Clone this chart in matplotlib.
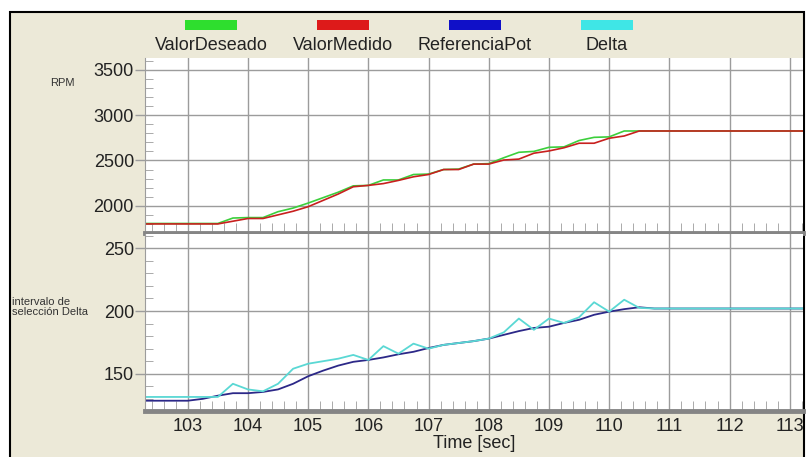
import matplotlib.pyplot as plt
from matplotlib.patches import Rectangle
from matplotlib.ticker import MultipleLocator

plt.rcParams['font.family'] = ['Liberation Sans', 'DejaVu Sans']

# samples every 0.25 s
t = [102.25 + 0.25 * i for i in range(45)]

valor_deseado = [1805, 1805, 1805, 1805, 1805, 1805, 1865, 1870, 1870, 1935,
                 1975, 2030, 2090, 2150, 2220, 2225, 2285, 2285, 2345, 2350,
                 2400, 2405, 2460, 2465, 2530, 2590, 2600, 2645, 2650, 2720,
                 2755, 2760, 2825, 2825, 2825, 2825, 2825, 2825, 2825, 2825,
                 2825, 2825, 2825, 2825, 2825]
valor_medido = [1800, 1800, 1800, 1800, 1800, 1800, 1830, 1860, 1860, 1900,
                1940, 1990, 2060, 2130, 2210, 2225, 2245, 2280, 2320, 2345,
                2400, 2400, 2460, 2460, 2505, 2515, 2580, 2605, 2640, 2690,
                2690, 2745, 2770, 2825, 2825, 2825, 2825, 2825, 2825, 2825,
                2825, 2825, 2825, 2825, 2825]
referencia_pot = [128.5, 128.5, 128.5, 128.5, 130, 132.5, 134.5, 134.5, 135.5, 137.5,
                  142, 148, 152.5, 156.5, 159.5, 161, 163, 165.5, 167.5, 170.5,
                  173, 174.5, 176, 178, 181, 184, 186.5, 187.5, 190.5, 193,
                  197, 199.5, 201.5, 203, 202, 202, 202, 202, 202, 202,
                  202, 202, 202, 202, 202]
delta = [131.5, 131.5, 131.5, 131.5, 131.5, 131.5, 142, 137.5, 136, 142,
         154, 158, 160, 162, 165, 161, 172, 166, 174, 170,
         173, 174.5, 176, 178, 183, 194, 185, 194, 190.5, 195,
         207, 199.5, 209, 202.5, 202, 202, 202, 202, 202, 202,
         202, 202, 202, 202, 202]

series_names = ['ValorDeseado', 'ValorMedido', 'ReferenciaPot', 'Delta']
series_colors = ['#2ede2e', '#dd1a1a', '#1010c8', '#3fe6e6']
line_colors = ['#3ccf3c', '#c8201e', '#2c2888', '#5ad8d4']

beige = '#ece9d8'
grid_c = '#9c9c9c'

fig = plt.figure(figsize=(8.06, 4.57), dpi=100, facecolor='white')
frame = Rectangle((10 / 806, -0.1), 794 / 806, 445 / 457 + 0.1,
                  transform=fig.transFigure, facecolor=beige,
                  edgecolor='black', linewidth=1.5, zorder=-10)
fig.patches.append(frame)

# legend strip along the top
for i, (name, c) in enumerate(zip(series_names, series_colors)):
    cx = (211 + 132 * i) / 806
    fig.patches.append(Rectangle((cx - 26 / 806, 1 - 30 / 457), 52 / 806, 10 / 457,
                                 transform=fig.transFigure, facecolor=c,
                                 edgecolor='none', zorder=2))
    fig.text(cx, 1 - 45 / 457, name, ha='center', va='center', fontsize=13, color='#222222')

ax1 = fig.add_axes([145 / 806, 1 - 233 / 457, 658 / 806, 175 / 457], zorder=5)
ax2 = fig.add_axes([145 / 806, 1 - 411 / 457, 658 / 806, 177 / 457], zorder=5)

ax1.plot(t, valor_deseado, color=line_colors[0], lw=1.2)
ax1.plot(t, valor_medido, color=line_colors[1], lw=1.2)
ax2.plot(t, referencia_pot, color=line_colors[2], lw=1.3)
ax2.plot(t, delta, color=line_colors[3], lw=1.3)

ax1.set_ylim(1700, 3630)
ax1.yaxis.set_major_locator(MultipleLocator(500))
ax1.yaxis.set_minor_locator(MultipleLocator(100))
ax2.set_ylim(120.3, 261.4)
ax2.yaxis.set_major_locator(MultipleLocator(50))
ax2.yaxis.set_minor_locator(MultipleLocator(10))

for ax in (ax1, ax2):
    ax.set_facecolor('white')
    ax.set_xlim(102.29, 113.22)
    ax.xaxis.set_major_locator(MultipleLocator(1))
    ax.xaxis.set_minor_locator(MultipleLocator(0.2))
    ax.grid(True, which='major', color=grid_c, lw=1)
    ax.set_axisbelow(True)
    ax.tick_params(axis='y', which='major', direction='out', length=7, width=1,
                   color=grid_c, labelsize=13, labelcolor='#222222', pad=1)
    ax.tick_params(axis='y', which='minor', direction='in', length=6, color=grid_c)
    ax.tick_params(axis='x', which='major', length=0, labelsize=13,
                   labelcolor='#222222', pad=5)
    ax.tick_params(axis='x', which='minor', direction='in', length=7, color=grid_c)
    for s in ('top', 'right'):
        ax.spines[s].set_visible(False)
    ax.spines['left'].set_color(grid_c)
    ax.spines['bottom'].set_color('#858585')
    ax.spines['bottom'].set_linewidth(3.5)

ax1.tick_params(axis='x', labelbottom=False)
ax2.set_xlabel('Time [sec]', fontsize=13, color='#222222', labelpad=0)

fig.text(62 / 806, 1 - 83 / 457, 'RPM', ha='center', va='center', fontsize=8, color='#333333')
fig.text(12 / 806, 1 - 307 / 457, 'intervalo de\nselección Delta', ha='left', va='center',
         fontsize=8, color='#333333', linespacing=1.1)

plt.savefig('out.png', dpi=100, facecolor=fig.get_facecolor())
